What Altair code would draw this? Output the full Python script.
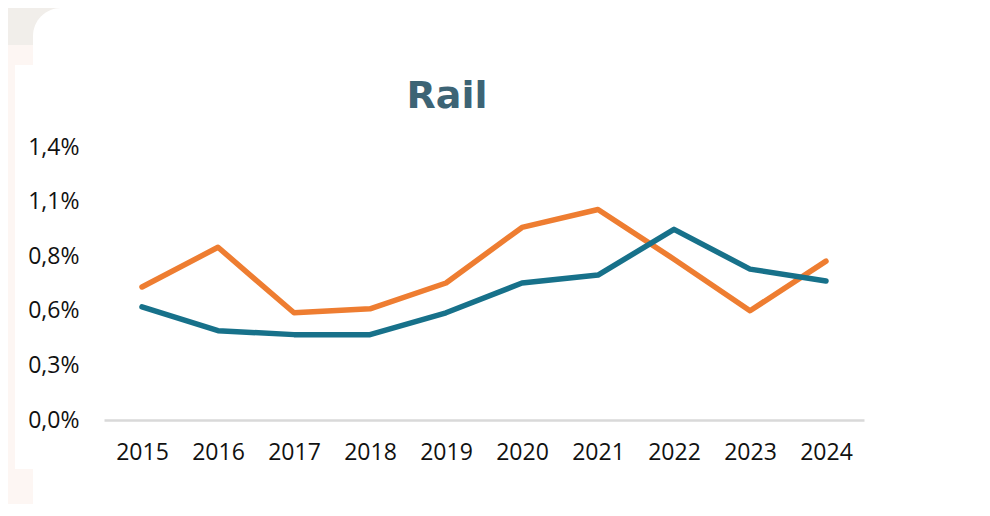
import altair as alt
import pandas as pd

years = ["2015", "2016", "2017", "2018", "2019", "2020", "2021", "2022", "2023", "2024"]
series_orange = [0.67, 0.87, 0.54, 0.56, 0.69, 0.97, 1.06, 0.81, 0.55, 0.80]
series_teal = [0.57, 0.45, 0.43, 0.43, 0.54, 0.69, 0.73, 0.96, 0.76, 0.70]
series_names = ["Series 1", "Series 2"]
series_colors = ["#ee7d31", "#17718a"]
y_ticks = [0, 0.275, 0.55, 0.825, 1.1, 1.375]
chart_title = "Rail"

rows = []
for name, vals in zip(series_names, [series_orange, series_teal]):
    for y, v in zip(years, vals):
        rows.append({"year": y, "value": v, "series": name})
df = pd.DataFrame(rows)

W, H = 760, 273
PL, PT = 96, 139
TOTAL_W, TOTAL_H = 974, 496

# decorative background pieces (page frame), pixel positions relative to plot origin
def deco_rect(x0, y0, x1, y1, color, radius=0):
    return alt.Chart(pd.DataFrame({"k": [0]})).mark_rect(
        color=color, cornerRadius=radius
    ).encode(
        x=alt.value(x0), x2=alt.value(x1), y=alt.value(y0), y2=alt.value(y1)
    )

deco = [
    deco_rect(-PL, -PT, TOTAL_W - PL, -PT + 37, "#f1eeea"),
    deco_rect(-PL, -PT + 37, -PL + 25, -PT + 57, "#fdf6f3"),
    deco_rect(-PL, -PT + 37, -PL + 7, TOTAL_H - PT, "#fdf6f3"),
    deco_rect(-PL, TOTAL_H - PT - 35, -PL + 25, TOTAL_H - PT, "#fdf6f3"),
    deco_rect(-PL + 25, -PT, TOTAL_W - PL + 30, TOTAL_H - PT + 14, "#ffffff", radius=28),
]

title = alt.Chart(pd.DataFrame({"t": [chart_title]})).mark_text(
    font="DejaVu Sans", fontSize=38, fontWeight="bold", color="#3d6475",
    align="center", baseline="alphabetic"
).encode(text="t:N", x=alt.value(447 - 8 - PL), y=alt.value(108 - 8 - PT))

lines = alt.Chart(df).mark_line(strokeWidth=5.5, strokeCap="round", strokeJoin="round").encode(
    x=alt.X("year:O", sort=years, scale=alt.Scale(type="point", padding=0.5),
            axis=alt.Axis(title=None, labelAngle=0, ticks=False, domain=True,
                          domainColor="#d9d9d9", domainWidth=2.5, zindex=1,
                          labelFont="Open Sans", labelFontSize=23, labelColor="#111111",
                          labelPadding=21, grid=False)),
    y=alt.Y("value:Q", scale=alt.Scale(domain=[0, 1.375], nice=False, zero=True),
            axis=alt.Axis(title=None, values=y_ticks, ticks=False, domain=False, grid=False,
                          zindex=1,
                          labelFont="Open Sans", labelFontSize=23, labelColor="#111111",
                          labelPadding=25,
                          labelExpr="replace(format(datum.value, '.1f'), '.', ',') + '%'")),
    color=alt.Color("series:N", scale=alt.Scale(domain=series_names, range=series_colors), legend=None),
    order=alt.Order("year:O"),
)

chart = alt.layer(*deco, title, lines).properties(
    width=W, height=H,
    autosize=alt.AutoSizeParams(type="none"),
    padding={"left": PL, "top": PT, "right": TOTAL_W - PL - W, "bottom": TOTAL_H - PT - H},
    background="#ffffff",
).configure_view(stroke=None)

chart.save("out.html", embed_options={"renderer": "svg", "actions": False})
